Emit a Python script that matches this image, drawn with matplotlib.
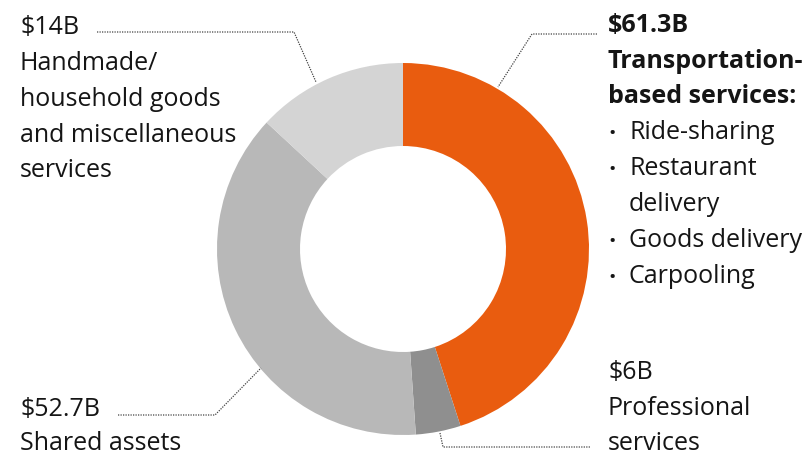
"""Gig economy spend by segment - donut with dotted leader labels."""
import matplotlib
matplotlib.use("Agg")
import matplotlib.pyplot as plt

W, H = 808, 456

# data, clockwise from 12 o'clock
segments = ["Transportation-based services", "Professional services",
            "Shared assets", "Handmade/household goods and miscellaneous services"]
values_bn = [61.3, 6.0, 52.7, 14.0]          # labelled amounts ($B)
ring_share = [45.0, 3.9, 38.0, 13.1]         # share of ring as drawn in the picture (%)
colors = ["#e95c0f", "#8f8f8f", "#b8b8b8", "#d4d4d4"]

transport_items = ["Ride-sharing", "Restaurant\ndelivery", "Goods delivery", "Carpooling"]

plt.rcParams["font.family"] = ["Open Sans", "DejaVu Sans"]
FS = 18
INK = "#151515"

fig = plt.figure(figsize=(W / 100, H / 100), dpi=100)
ax = fig.add_axes([0, 0, 1, 1])


def Y(y):  # pixel row (top-down) -> data y (bottom-up)
    return H - y


ax.pie(ring_share, colors=colors, startangle=90, counterclock=False,
       center=(403, Y(250)), radius=186, frame=True,
       wedgeprops=dict(width=83, linewidth=0))
ax.set_xlim(0, W)
ax.set_ylim(0, H)
ax.set_aspect("equal")
ax.axis("off")

lk = dict(color="#444444", lw=0.9, ls=(0, (1, 1)))

# leader lines
ax.plot([97, 294, 316], [Y(33), Y(33), Y(83)], **lk)
ax.plot([597, 532, 498], [Y(35), Y(35), Y(88)], **lk)
ax.plot([118, 215, 261], [Y(416), Y(416), Y(369)], **lk)
ax.plot([440, 443, 443, 590], [Y(434), Y(448), Y(448), Y(448)], **lk)


def lines(x, baselines, texts, **kw):
    for b, t in zip(baselines, texts):
        ax.text(x, Y(b), t, fontsize=FS, color=INK, va="baseline", ha="left", **kw)


# top-left
lines(20, [34, 70, 106, 142, 177],
      [f"${values_bn[3]:g}B", "Handmade/", "household goods", "and miscellaneous", "services"])

# top-right (bold heading + bullet list)
lines(608, [32, 68, 103],
      [f"${values_bn[0]:g}B", "Transportation-", "based services:"], fontweight="bold")
item_lines = []
for item in transport_items:
    for i, p in enumerate(item.split("\n")):
        item_lines.append((p, i == 0))
for (txt, bullet), b in zip(item_lines, [139, 175, 211, 247, 283]):
    if bullet:
        ax.text(608, Y(b), "•", fontsize=14, color=INK, va="baseline", ha="left")
    ax.text(629, Y(b), txt, fontsize=FS, color=INK, va="baseline", ha="left")

# bottom-left
lines(20, [416, 450], [f"${values_bn[2]:g}B", "Shared assets"])

# bottom-right
lines(608, [379, 415, 450], [f"${values_bn[1]:g}B", "Professional", "services"])

fig.savefig("out.png", dpi=100)
